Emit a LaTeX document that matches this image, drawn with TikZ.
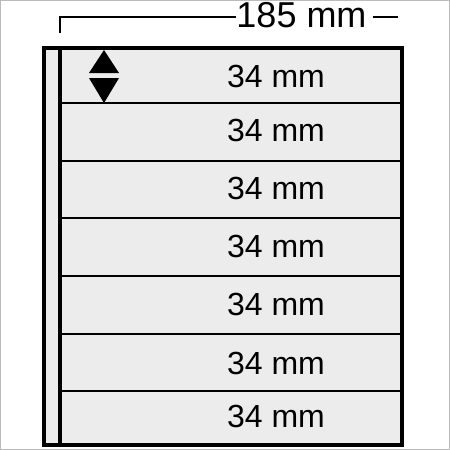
\documentclass[tikz,border=0pt]{standalone}
\usepackage{fontspec}
\setmainfont{Liberation Sans}
\definecolor{panel}{HTML}{ECECEC}
\definecolor{edge}{HTML}{BBBBBB}
\tikzset{
  rowlabel/.style={font=\fontsize{32}{34}\selectfont, inner sep=0pt, anchor=center},
  divider/.style={line width=2pt, black},
  frame/.style={line width=3.2pt, black},
  dimline/.style={line width=1.3pt, black},
  tri/.style={fill=black, draw=none}
}
\begin{document}
\begin{tikzpicture}[x=1pt,y=-1pt]
\useasboundingbox (0,0) rectangle (450,450);
\draw[edge, line width=1pt] (0.5,0.5) rectangle (449.5,449.5);
% panel
\fill[panel] (44,48) rectangle (402,445);
% dividers
\foreach \yy in {103,161,218,276,334,391}
  \draw[divider] (60,\yy) -- (404,\yy);
% frame
\draw[frame] (44,48) rectangle (402,445);
\draw[frame] (60,48) -- (60,445);
% row labels
\node[rowlabel] (r1) at (276,76) {34 mm};
\node[rowlabel] (r2) at (276,130) {34 mm};
\node[rowlabel] (r3) at (276,188) {34 mm};
\node[rowlabel] (r4) at (276,246) {34 mm};
\node[rowlabel] (r5) at (276,304) {34 mm};
\node[rowlabel] (r6) at (276,363) {34 mm};
\node[rowlabel] (r7) at (276,416.5) {34 mm};
% triangles
\fill[tri] (104,50) -- (119,73) -- (89,73) -- cycle;
\fill[tri] (104,103) -- (119,78) -- (89,78) -- cycle;
% dimension
\node[font=\fontsize{36}{38}\selectfont, inner sep=0pt] (dim) at (301.5,15) {185 mm};
\coordinate (dl) at (60,17);
\coordinate (dlb) at (60,33);
\coordinate (dr) at (398,17);
\draw[dimline] (dlb) -- (dl) -- (dim.west |- dl);
\draw[dimline] (dim.east |- dr) ++(6,0) -- (dr);
\end{tikzpicture}
\end{document}
